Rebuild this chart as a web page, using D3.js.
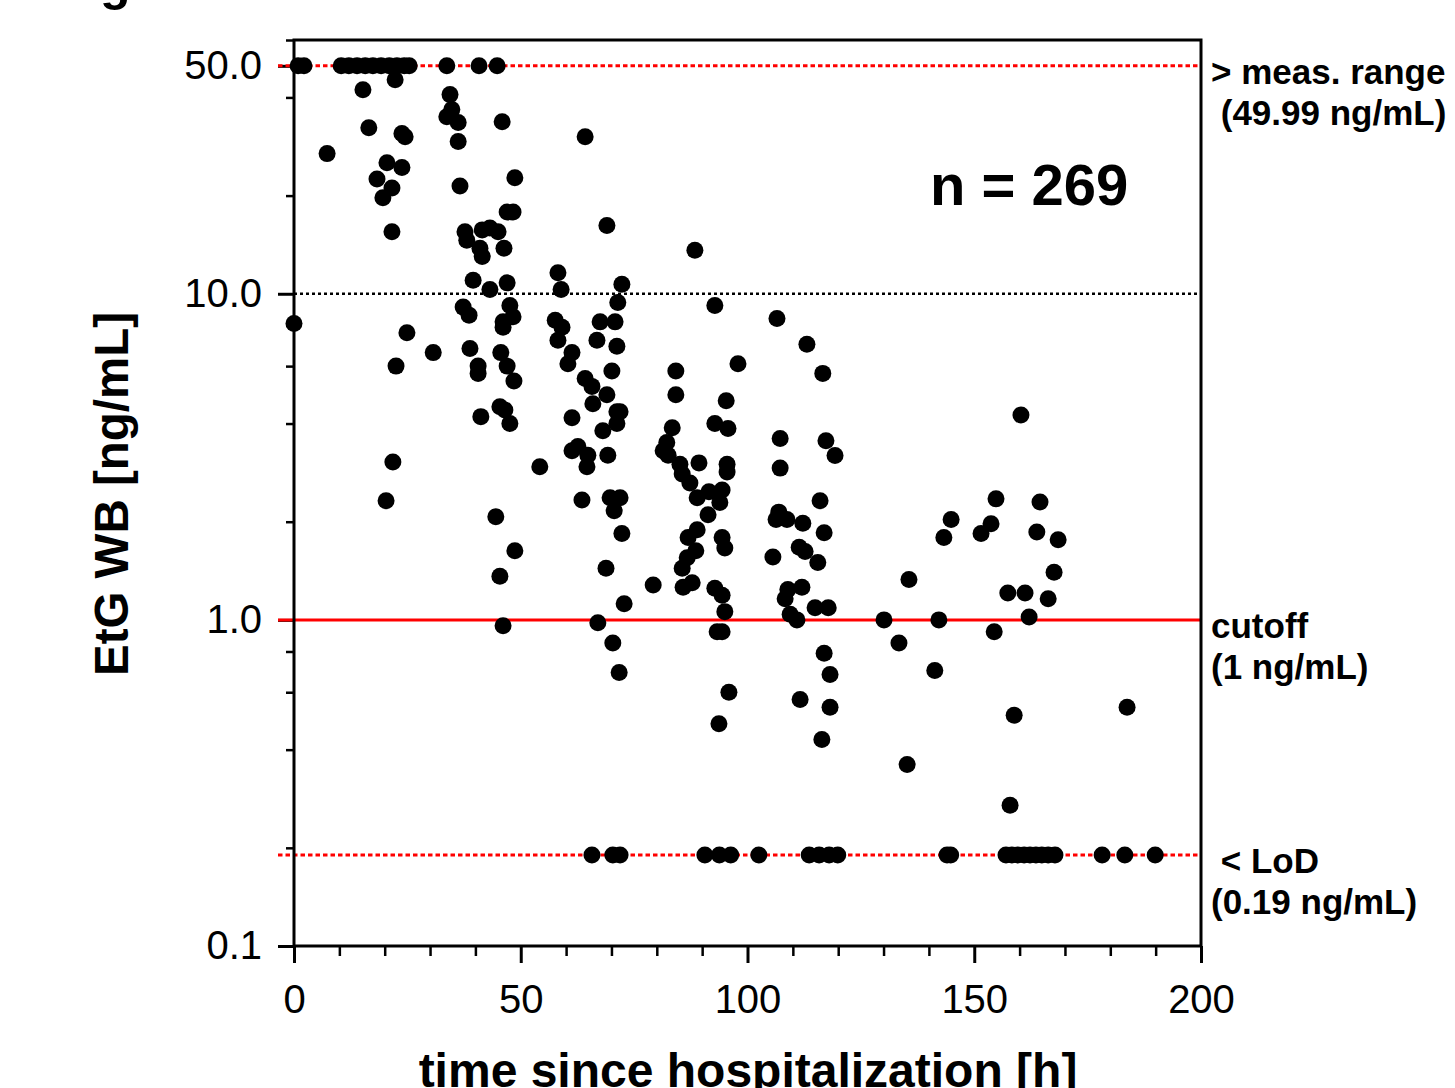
<!DOCTYPE html>
<html>
<head>
<meta charset="utf-8">
<script src="https://cdn.jsdelivr.net/npm/d3@7"></script>
<style>
  body { margin: 0; background: #fff; }
  text { font-family: "Liberation Sans", Arial, Helvetica, sans-serif; }
</style>
</head>
<body>
<div id="vis"></div>
<script>
// samples above the measuring range (plotted at 49.99 ng/mL)
const overRangeTimes = [0.9, 2.2, 10.4, 12.1, 13.9, 15.7, 17.4, 19.2, 21.0, 22.7, 24.3, 25.4, 33.7, 40.8, 44.8];

// samples below the limit of detection (plotted at 0.19 ng/mL)
const lodTimes = [65.7, 70.3, 71.9, 90.6, 93.8, 96.3, 102.5, 113.6, 115.8, 118.0, 119.9, 144.0, 144.8,
  157.0, 158.3, 159.6, 161.0, 162.3, 163.6, 164.9, 166.3, 167.8, 178.2, 183.2, 189.9];

// measured samples: [time h, EtG ng/mL]
const measured = [
  [22.3, 45.3], [15.2, 42.2], [34.4, 40.8], [34.8, 36.7], [33.7, 34.9], [36.2, 33.5], [16.5, 32.3],
  [23.8, 31.0], [24.5, 30.3], [45.9, 33.7], [36.2, 29.3], [7.3, 26.9], [20.5, 25.2], [23.8, 24.4],
  [18.3, 22.5], [21.6, 21.1], [19.6, 19.7], [36.6, 21.4], [48.7, 22.7], [47.0, 17.8], [48.3, 17.8],
  [21.6, 15.5], [37.7, 15.5], [38.1, 14.6], [41.5, 15.7], [43.2, 15.9], [45.0, 15.5], [41.0, 13.8],
  [46.3, 13.8], [41.5, 13.0], [39.5, 11.0], [43.2, 10.3], [47.0, 10.8], [0, 8.1], [24.9, 7.6],
  [37.3, 9.1], [38.6, 8.6], [47.6, 9.2], [48.3, 8.5], [46.1, 8.2], [46.1, 7.9], [30.7, 6.6],
  [38.8, 6.8], [45.6, 6.6], [22.5, 6.0], [40.6, 6.0], [40.6, 5.7], [47.0, 6.0], [48.5, 5.4],
  [45.4, 4.5], [46.5, 4.4], [41.2, 4.2], [47.6, 4.0], [21.8, 3.05], [20.3, 2.32], [44.5, 2.07],
  [48.7, 1.63], [45.4, 1.36], [46.1, 0.96], [54.2, 2.95],
  [64.2, 30.3], [69.0, 16.2], [88.4, 13.6], [58.2, 11.6], [58.9, 10.3], [72.3, 10.7], [71.4, 9.4],
  [92.8, 9.2], [106.5, 8.4], [57.6, 8.3], [59.1, 7.9], [67.5, 8.2], [70.8, 8.2], [58.2, 7.2],
  [66.8, 7.2], [71.2, 6.9], [61.3, 6.6], [60.4, 6.1], [97.9, 6.1], [64.2, 5.5], [65.7, 5.2],
  [70.1, 5.8], [84.2, 5.8], [69.0, 4.9], [84.2, 4.9], [95.3, 4.7], [65.9, 4.6], [61.3, 4.17],
  [71.2, 4.35], [71.9, 4.35], [71.2, 4.0], [68.1, 3.8], [92.8, 4.0], [95.7, 3.86], [107.2, 3.6],
  [83.4, 3.88], [82.2, 3.5], [81.4, 3.3], [82.5, 3.2], [85.1, 3.0], [85.6, 2.8], [89.3, 3.03],
  [87.3, 2.63], [88.9, 2.37], [91.5, 2.47], [94.4, 2.5], [93.9, 2.29], [91.3, 2.1], [95.5, 3.0],
  [95.5, 2.84], [107.2, 2.92], [61.3, 3.3], [62.6, 3.4], [64.8, 3.2], [64.6, 2.95], [69.2, 3.2],
  [63.5, 2.33], [69.7, 2.37], [71.9, 2.37], [70.6, 2.16], [72.3, 1.84], [68.8, 1.44], [79.2, 1.28],
  [72.8, 1.12], [67.0, 0.98], [70.3, 0.85], [71.7, 0.69], [86.7, 1.55], [88.6, 1.63], [86.9, 1.79],
  [88.9, 1.89], [85.6, 1.44], [85.8, 1.26], [87.8, 1.30], [92.8, 1.25], [94.4, 1.19], [95.0, 1.06],
  [93.3, 0.92], [94.4, 0.92], [95.9, 0.60], [93.7, 0.48], [94.4, 1.79], [95.0, 1.66],
  [105.6, 1.56], [113.1, 7.0], [116.6, 5.7], [117.3, 3.54], [119.3, 3.19], [116.0, 2.32],
  [106.9, 2.14], [106.3, 2.03], [108.7, 2.03], [112.2, 1.98], [116.9, 1.85], [111.4, 1.67],
  [112.7, 1.62], [115.5, 1.50], [108.9, 1.24], [112.0, 1.26], [108.3, 1.16], [114.9, 1.09],
  [117.8, 1.09], [109.4, 1.04], [110.9, 1.0], [130.1, 1.0], [135.6, 1.33], [133.4, 0.85],
  [142.2, 1.0], [141.3, 0.70], [116.9, 0.79], [118.2, 0.68], [111.6, 0.57], [118.2, 0.54],
  [116.4, 0.43], [160.3, 4.25], [154.8, 2.35], [164.5, 2.30], [144.9, 2.03], [143.3, 1.79],
  [153.7, 1.97], [151.5, 1.84], [163.8, 1.86], [168.5, 1.76], [167.6, 1.40], [157.4, 1.21],
  [161.2, 1.21], [166.3, 1.16], [162.1, 1.02], [154.4, 0.92], [183.7, 0.54], [158.8, 0.51],
  [135.2, 0.36], [157.9, 0.27]
];

const overRangeValue = 49.99;
const lodValue = 0.19;
const cutoffValue = 1;
const guideValue = 10;

const yMajorTicks = [0.1, 1, 10, 50];
const yMajorLabels = ["0.1", "1.0", "10.0", "50.0"];
const yMinorTicks = [0.2, 0.4, 0.6, 0.8, 2, 4, 6, 8, 20, 40, 60];
const xMajorTicks = [0, 50, 100, 150, 200];
const xMinorTicks = [10, 20, 30, 40, 60, 70, 80, 90, 110, 120, 130, 140, 160, 170, 180, 190];

const sideLabels = [
  { value: overRangeValue, lines: ["> meas. range", " (49.99 ng/mL)"] },
  { value: cutoffValue, lines: ["cutoff", "(1 ng/mL)"] },
  { value: lodValue, lines: [" < LoD", "(0.19 ng/mL)"] }
];

const width = 1455;
const height = 1088;
const plotLeft = 294, plotRight = 1201, plotTop = 40, plotBottom = 946;

const svg = d3.select("#vis")
  .append("svg")
  .attr("width", width)
  .attr("height", height);

svg.append("rect").attr("width", width).attr("height", height).attr("fill", "#fff");

const x = d3.scaleLinear().domain([0, 200]).range([plotLeft, plotRight]);
const y = d3.scaleLog().domain([0.1, 60]).range([plotBottom, plotTop]);

// reference lines
function hline(v, x0, color, dash, w) {
  svg.append("line")
    .attr("x1", x0).attr("x2", plotRight)
    .attr("y1", y(v)).attr("y2", y(v))
    .attr("stroke", color)
    .attr("stroke-width", w)
    .attr("stroke-dasharray", dash);
}

// axes
function styleAxis(g, w) {
  g.select(".domain").remove();
  g.selectAll(".tick line").attr("stroke", "#000").attr("stroke-width", w);
  g.selectAll(".tick text")
    .attr("fill", "#000")
    .style("font-size", "40px");
}

svg.append("g")
  .attr("transform", `translate(${plotLeft},0)`)
  .call(d3.axisLeft(y).tickValues(yMinorTicks).tickSize(8).tickFormat(""))
  .call(g => styleAxis(g, 2.5));

svg.append("g")
  .attr("transform", `translate(${plotLeft},0)`)
  .call(d3.axisLeft(y).tickValues(yMajorTicks).tickSize(16).tickPadding(16)
    .tickFormat((d, i) => yMajorLabels[i]))
  .call(g => styleAxis(g, 3));

svg.append("g")
  .attr("transform", `translate(0,${plotBottom})`)
  .call(d3.axisBottom(x).tickValues(xMinorTicks).tickSize(10).tickFormat(""))
  .call(g => styleAxis(g, 2.5));

svg.append("g")
  .attr("transform", `translate(0,${plotBottom})`)
  .call(d3.axisBottom(x).tickValues(xMajorTicks).tickSize(17).tickPadding(22))
  .call(g => styleAxis(g, 3));

hline(guideValue, plotLeft, "#000", "3,3", 2.5);
hline(overRangeValue, 278, "#ff0000", "4.5,3", 3);
hline(lodValue, 278, "#ff0000", "4.5,3", 3);
hline(cutoffValue, 278, "#ff0000", null, 3);

// frame
svg.append("path")
  .attr("d", `M${plotLeft},${plotBottom} V${plotTop} H${plotRight} V${plotBottom} H${plotLeft}`)
  .attr("fill", "none")
  .attr("stroke", "#000")
  .attr("stroke-width", 3);

// points
const points = [
  ...overRangeTimes.map(t => [t, overRangeValue]),
  ...lodTimes.map(t => [t, lodValue]),
  ...measured
];

svg.append("g")
  .selectAll("circle")
  .data(points)
  .enter()
  .append("circle")
  .attr("cx", d => x(d[0]))
  .attr("cy", d => y(d[1]))
  .attr("r", 8.5)
  .attr("fill", "#000");

// side labels
sideLabels.forEach(s => {
  const t = svg.append("text")
    .attr("x", 1211)
    .attr("y", y(s.value) + 18)
    .style("font-size", "35px")
    .style("font-weight", "bold")
    .style("white-space", "pre");
  s.lines.forEach((line, i) => {
    t.append("tspan")
      .attr("x", 1211)
      .attr("dy", i === 0 ? 0 : 41)
      .text(line);
  });
});

svg.append("text")
  .attr("x", 930)
  .attr("y", 205)
  .style("font-size", "58px")
  .style("font-weight", "bold")
  .text("n = 269");

svg.append("text")
  .attr("transform", "translate(128,494) rotate(-90)")
  .attr("text-anchor", "middle")
  .style("font-size", "47.5px")
  .style("font-weight", "bold")
  .text("EtG WB [ng/mL]");

svg.append("text")
  .attr("x", 748)
  .attr("y", 1087)
  .attr("text-anchor", "middle")
  .style("font-size", "48px")
  .style("font-weight", "bold")
  .text("time since hospitalization [h]");

svg.append("text")
  .attr("x", 100)
  .attr("y", 0)
  .style("font-size", "50px")
  .style("font-weight", "bold")
  .text("g");
</script>
</body>
</html>
